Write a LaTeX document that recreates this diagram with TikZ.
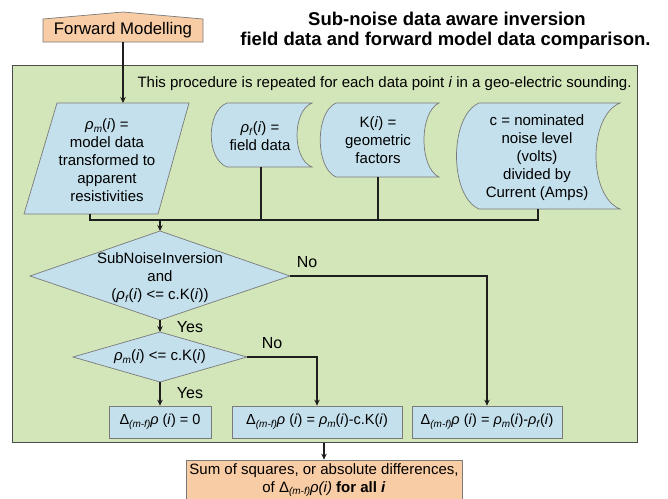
\documentclass[tikz,border=0pt]{standalone}
\usepackage{fontspec}
\setmainfont{Liberation Sans}
\usetikzlibrary{arrows.meta,calc}
\definecolor{greenfill}{HTML}{D3E6B9}
\definecolor{bluefill}{HTML}{C4E0EC}
\definecolor{peachfill}{HTML}{F8CCA4}
\definecolor{lineclr}{HTML}{1E1E1E}
\definecolor{edgeclr}{HTML}{7A7A7A}
\newcommand{\lsub}[1]{\raisebox{-0.35ex}{\fontsize{10}{10}\selectfont #1}}
\newcommand{\rh}{\textit{ρ}}
\newcommand{\ii}{\textit{i}}
\newcommand{\dlt}{Δ\lsub{\textit{(m-f)}}\rh}
\begin{document}
\begin{tikzpicture}[x=1pt,y=-1pt,
  conn/.style={draw=lineclr, line width=1.8pt},
  arr/.style={conn,-{Stealth[length=6pt,width=5.5pt]}},
  shapeedge/.style={draw=edgeclr, line width=0.7pt, fill=bluefill},
  txt/.style={align=center, font=\fontsize{15}{18}\selectfont, inner sep=0pt},
  lbl/.style={font=\fontsize{16}{18}\selectfont, inner sep=0pt},
  ttl/.style={font=\fontsize{18.5}{20}\selectfont\bfseries, inner sep=0pt},
  outbox/.style={draw=edgeclr, line width=0.7pt, fill=bluefill, minimum height=32pt, inner sep=0pt, font=\fontsize{14.5}{18}\selectfont}]
\useasboundingbox (0,0) rectangle (668,498);
\fill[white] (0,0) rectangle (668,498);

% titles
\node[ttl] (t1) at (447,19) {Sub-noise data aware inversion};
\node[ttl] (t2) at (445.5,41) {field data and forward model data comparison.};

% panel
\node[draw=lineclr!80, line width=1pt, fill=greenfill, minimum width=625pt, minimum height=377pt, inner sep=0pt, anchor=north west] (panel) at (12,65) {};
\node[txt, font=\fontsize{15}{18}\selectfont] (note) at (384.5,84) {This procedure is repeated for each data point \ii{} in a geo-electric sounding.};

% forward modelling
\draw[draw=edgeclr, line width=0.7pt, fill=peachfill] (43,19) -- (123,12) -- (203,19) -- (203,42) -- (43,42) -- cycle;
\node[txt, font=\fontsize{16.8}{18}\selectfont] (fm) at (123,30) {Forward Modelling};
\coordinate (fmb) at (123,42);

% parallelogram
\draw[shapeedge] (57,103) -- (189,103) -- (158,214) -- (24,214) -- cycle;
\node[txt] (pm) at (107,160) {\rh\lsub{\textit{m}}(\ii) =\\model data\\transformed to\\apparent\\resistivities};
\coordinate (pmt) at (123,103);
\coordinate (pmb) at (90,214);

% field data
\draw[shapeedge] (227,103) -- (312,103) .. controls (292,111) and (292,159) .. (312,167) -- (227,167) .. controls (206,159) and (206,111) .. cycle;
\node[txt] (fd) at (260,136) {\rh\lsub{\textit{f}}(\ii) =\\field data};
\coordinate (fdb) at (261,167);

% K
\draw[shapeedge] (336,103) -- (439,103) .. controls (419,112) and (419,168) .. (439,177) -- (336,177) .. controls (315,168) and (315,112) .. cycle;
\node[txt] (kf) at (378,140) {K(\ii) =\\geometric\\factors};
\coordinate (kb) at (378,177);

% c
\draw[shapeedge] (479,103) -- (620,103) .. controls (588,116) and (588,196) .. (620,209) -- (479,209) .. controls (449,196) and (449,116) .. cycle;
\node[txt] (cn) at (537,157.5) {c = nominated\\noise level\\(volts)\\divided by\\Current (Amps)};
\coordinate (cb) at (538,209);

% bus
\coordinate (busL) at (90,220);
\coordinate (busM) at (160,220);
\coordinate (busR) at (538,220);
\draw[conn] (pmb) -- (busL) -- (busR) -- (cb);
\draw[conn] (fdb) -- (fdb |- busL);
\draw[conn] (kb) -- (kb |- busL);

% diamond 1
\coordinate (d1l) at (30,276);
\coordinate (d1t) at (160,231);
\coordinate (d1r) at (290,276);
\coordinate (d1b) at (160,320);
\draw[shapeedge] (d1l) -- (d1t) -- (d1r) -- (d1b) -- cycle;
\node[txt] (d1) at (160,277.5) {SubNoiseInversion\\and\\(\rh\lsub{\textit{f}}(\ii) <= c.K(\ii))};

% diamond 2
\coordinate (d2l) at (73,357);
\coordinate (d2t) at (160,332);
\coordinate (d2r) at (247,357);
\coordinate (d2b) at (160,382);
\draw[shapeedge] (d2l) -- (d2t) -- (d2r) -- (d2b) -- cycle;
\node[txt] (d2) at (160,357) {\rh\lsub{\textit{m}}(\ii) <= c.K(\ii)};

% output boxes
\node[outbox, minimum width=102pt] (b1) at (160,422) {\dlt{} (\ii) = 0};
\node[outbox, minimum width=170pt] (b2) at (317,422) {\dlt{} (\ii) = \rh\lsub{\textit{m}}(\ii)-c.K(\ii)};
\node[outbox, minimum width=150pt] (b3) at (487,422) {\dlt{} (\ii) = \rh\lsub{\textit{m}}(\ii)-\rh\lsub{\textit{f}}(\ii)};

% sum box
\node[draw=edgeclr, line width=0.7pt, fill=peachfill, minimum width=276pt, minimum height=42pt, inner sep=0pt] (sum) at (324,481) {};
\node[txt] (sumt) at (324,480) {Sum of squares, or absolute differences,\\of Δ\lsub{\textit{(m-f)}}\textit{ρ(i)} \textbf{for all \textit{i}}};

% connectors
\draw[arr] (fmb) -- (pmt);
\draw[arr] (busM) -- (d1t);
\draw[arr] (d1b) -- (d2t);
\draw[arr] (d1r) -| (b3.north);
\draw[arr] (d2r) -| (b2.north);
\draw[arr] (d2b) -- (b1.north);
\draw[arr] (panel.south -| sum.north) -- (sum.north);

% labels
\node[lbl] (no1) at (307,262) {No};
\node[lbl] (yes1) at (190,327) {Yes};
\node[lbl] (no2) at (272,343) {No};
\node[lbl] (yes2) at (190,393) {Yes};
\end{tikzpicture}
\end{document}
